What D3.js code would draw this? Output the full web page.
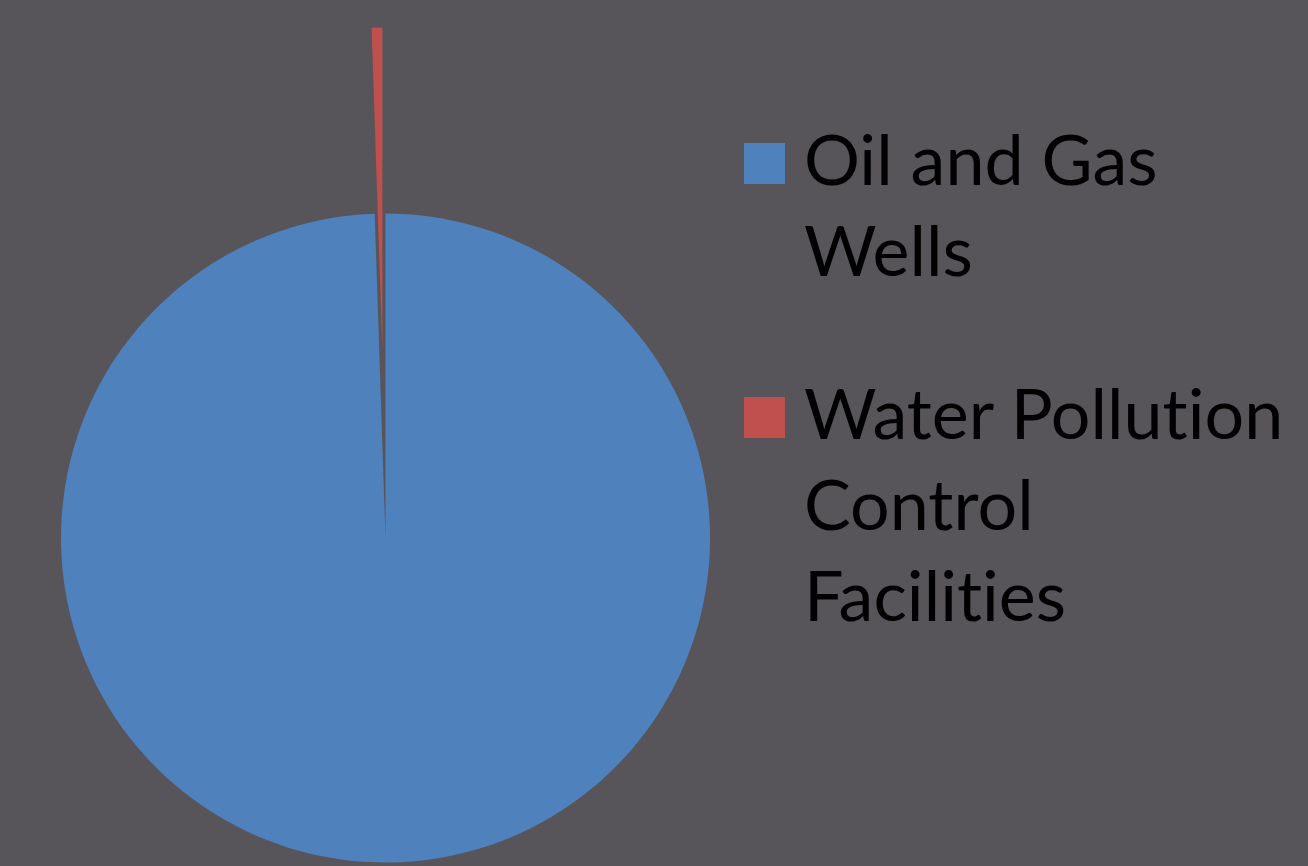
<!DOCTYPE html>
<html>
<head>
<meta charset="utf-8">
<script src="https://cdn.jsdelivr.net/npm/d3@7"></script>
<style>
  html, body { margin: 0; padding: 0; background: #57555a; }
  svg { display: block; }
  text { font-variant-ligatures: none; font-feature-settings: "liga" 0, "clig" 0; }
</style>
</head>
<body>
<div id="chart"></div>
<script>
// categories and their share of the total (%)
var categories = ["Oil and Gas Wells", "Water Pollution Control Facilities"];
var shares = [99.47, 0.53];
// legend text, already wrapped as in the original
var legendLines = [["Oil and Gas", "Wells"], ["Water Pollution", "Control", "Facilities"]];
var colors = ["#4f81bd", "#c0504d"];

var svgWidth = 1308;
var svgHeight = 866;

var svg = d3.select("#chart")
  .append("svg")
  .attr("width", svgWidth)
  .attr("height", svgHeight);

svg.append("rect")
  .attr("width", svgWidth)
  .attr("height", svgHeight)
  .attr("fill", "#57555a");

// pie geometry
var cx = 385.5, cy = 538, radius = 324.5;
var explode = 186; // pulled-out distance of the small slice

var pie = d3.pie().sort(null).value(d => d.value);
var arc = d3.arc().innerRadius(0).outerRadius(radius);

var pieData = pie(categories.map((c, i) => ({ name: c, value: shares[i] })));

var pieGroup = svg.append("g")
  .attr("transform", `translate(${cx}, ${cy})`);

pieGroup.selectAll("path")
  .data(pieData)
  .enter()
  .append("path")
  .attr("d", arc)
  .attr("fill", (d, i) => colors[i])
  .attr("transform", function (d, i) {
    if (i === 0) return null;
    var mid = (d.startAngle + d.endAngle) / 2;
    return `translate(${Math.sin(mid) * explode}, ${-Math.cos(mid) * explode})`;
  });

// legend
var legend = svg.append("g");
var itemTops = [143, 397];
var lineHeight = 91;

legendLines.forEach(function (lines, i) {
  legend.append("rect")
    .attr("x", 744)
    .attr("y", itemTops[i])
    .attr("width", 41)
    .attr("height", 41)
    .attr("fill", colors[i]);

  var text = legend.append("text")
    .attr("x", 804)
    .attr("y", itemTops[i] + 42)
    .attr("font-family", "Lato, 'Open Sans', sans-serif")
    .attr("font-size", 70)
    .attr("fill", "#000");

  lines.forEach(function (line, j) {
    text.append("tspan")
      .attr("x", 804)
      .attr("dy", j === 0 ? 0 : lineHeight)
      .text(line);
  });
});
</script>
</body>
</html>
